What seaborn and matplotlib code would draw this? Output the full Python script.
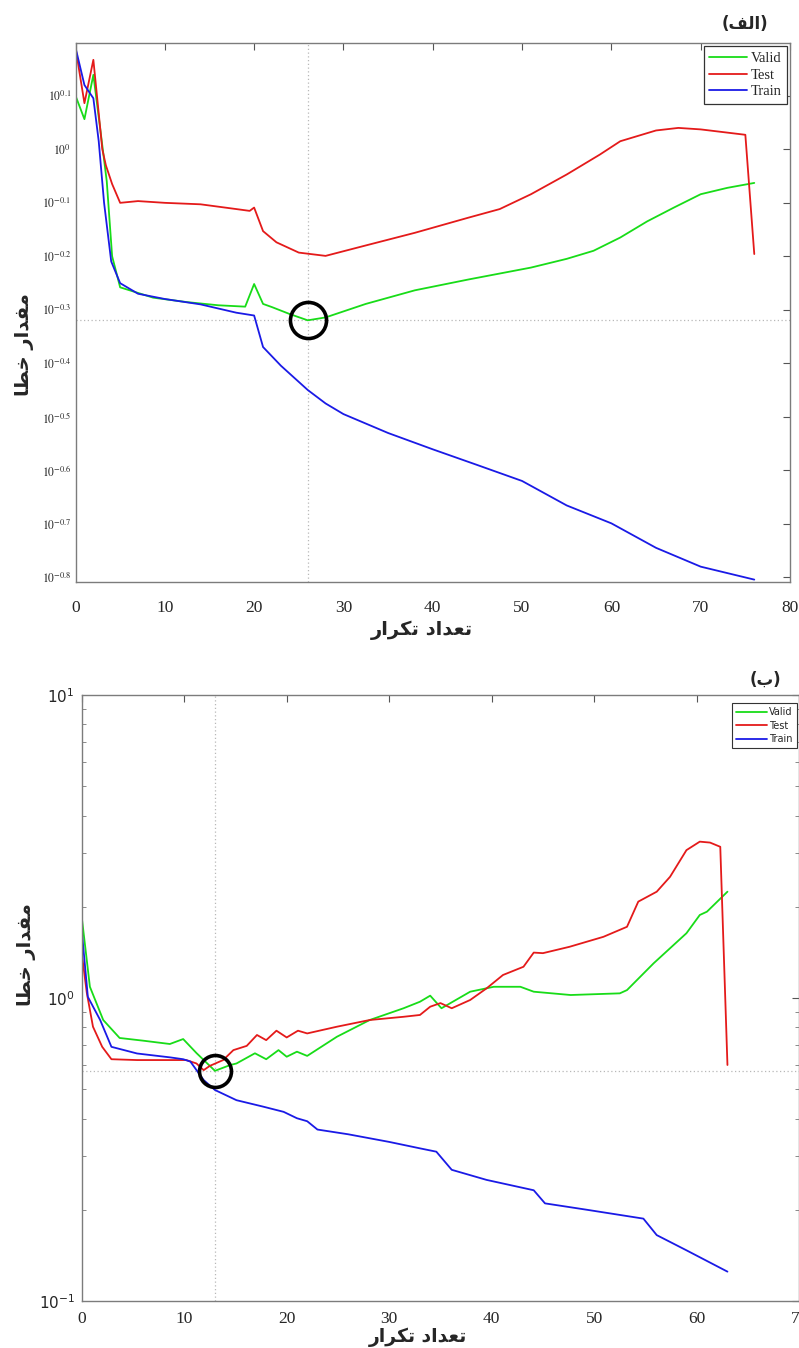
import numpy as np
import pandas as pd
import matplotlib
matplotlib.use("Agg")
import matplotlib.pyplot as plt
import seaborn as sns
from matplotlib.ticker import FixedLocator, NullLocator, LogLocator, NullFormatter

# ---------------- data ----------------
# panel (الف)
a_valid_x = [0, 1, 2, 2.8, 3.5, 4.1, 5, 8.7, 12.5, 16, 19, 20, 21, 22, 24, 26, 28, 32.5, 38, 44, 51, 55, 58, 61, 64, 67, 70, 73, 76]
a_valid_y = [1.259, 1.138, 1.377, 1.081, 0.871, 0.631, 0.552, 0.528, 0.518, 0.511, 0.508, 0.560, 0.514, 0.507, 0.492, 0.479,
             0.485, 0.514, 0.545, 0.571, 0.601, 0.624, 0.646, 0.684, 0.733, 0.778, 0.824, 0.847, 0.865]
a_test_x = [0, 1, 2, 3, 3.4, 4.1, 5, 7, 10, 14, 18, 19.5, 20, 21, 22.5, 25, 28, 32.5, 38, 44, 47.5, 51, 55, 58.7, 61, 65, 67.5, 70, 75, 76]
a_test_y = [1.549, 1.219, 1.469, 1.0, 0.933, 0.861, 0.794, 0.800, 0.794, 0.789, 0.773, 0.767, 0.778, 0.703, 0.670, 0.641,
            0.632, 0.661, 0.698, 0.745, 0.773, 0.824, 0.897, 0.977, 1.035, 1.084, 1.096, 1.089, 1.064, 0.637]
a_train_x = [0, 1, 2, 2.6, 3.2, 4, 5, 7, 10, 14, 18, 20, 21, 23, 26, 28, 30, 35, 40, 45, 50, 55, 60, 65, 70, 76]
a_train_y = [1.549, 1.318, 1.245, 1.035, 0.794, 0.617, 0.562, 0.537, 0.525, 0.513, 0.495, 0.489, 0.427, 0.394, 0.355, 0.335,
             0.320, 0.295, 0.275, 0.257, 0.240, 0.216, 0.200, 0.180, 0.166, 0.157]
a_best_epoch = 26
a_best_value = 0.479
a_yticks_exp = ["0.1", "0", "-0.1", "-0.2", "-0.3", "-0.4", "-0.5", "-0.6", "-0.7", "-0.8"]
a_xticks = [0, 10, 20, 30, 40, 50, 60, 70, 80]

# panel (ب)
b_valid_x = [0, 0.8, 2.1, 3.7, 6.0, 8.6, 9.9, 11.2, 13, 14.5, 15.1, 16.9, 18.0, 19.2, 20.0, 21.0, 22.0, 24.9, 28.1, 31.4,
             33.0, 34.0, 35.1, 37.9, 40.2, 42.8, 44.1, 47.7, 52.5, 53.2, 55.8, 59.0, 60.3, 61.0, 63]
b_valid_y = [1.854, 1.089, 0.846, 0.738, 0.723, 0.705, 0.732, 0.658, 0.575, 0.601, 0.608, 0.657, 0.628, 0.673, 0.640, 0.665,
             0.644, 0.745, 0.846, 0.925, 0.972, 1.018, 0.925, 1.049, 1.089, 1.089, 1.049, 1.023, 1.036, 1.062, 1.302, 1.636,
             1.879, 1.927, 2.243]
b_test_x = [0, 0.5, 1.1, 2.0, 2.9, 5.4, 8.6, 10.2, 11.2, 11.9, 12.5, 13.8, 14.8, 16.1, 17.1, 18.0, 19.0, 20.0, 21.1, 22.0,
            24.9, 28.1, 31.4, 33.0, 34.0, 35.0, 36.1, 37.9, 39.5, 41.1, 43.1, 44.1, 45.0, 47.6, 50.9, 53.2, 54.3, 56.1,
            57.4, 59.0, 60.3, 61.3, 62.3, 63]
b_test_y = [1.408, 1.039, 0.804, 0.690, 0.628, 0.624, 0.624, 0.624, 0.608, 0.578, 0.597, 0.624, 0.673, 0.695, 0.755, 0.726,
            0.780, 0.741, 0.780, 0.764, 0.804, 0.846, 0.867, 0.879, 0.936, 0.962, 0.925, 0.985, 1.076, 1.191, 1.268, 1.412,
            1.406, 1.476, 1.592, 1.718, 2.080, 2.243, 2.512, 3.076, 3.281, 3.258, 3.155, 0.601]
b_train_x = [0, 0.6, 1.8, 2.9, 5.4, 8.6, 9.9, 10.6, 11.9, 13.0, 15.1, 17.7, 19.7, 21.0, 22, 23, 26, 30, 33, 34.6, 36.1,
             39.5, 44.1, 45.2, 49.3, 54.8, 56.1, 59.0, 63]
b_train_y = [1.675, 1.009, 0.846, 0.690, 0.656, 0.637, 0.628, 0.617, 0.536, 0.497, 0.460, 0.438, 0.421, 0.401, 0.392, 0.368,
             0.355, 0.335, 0.319, 0.311, 0.271, 0.251, 0.232, 0.210, 0.200, 0.187, 0.165, 0.147, 0.125]
b_best_epoch = 13
b_best_value = 0.575
b_yticks_exp = ["1", "0", "-1"]
b_xticks = [0, 10, 20, 30, 40, 50, 60, 70]

series_names = ["Valid", "Test", "Train"]
series_colors = ["#18dc18", "#e41a1a", "#1a1ae6"]

# Persian labels in visual (shaped) order
title_a = "(\ufed2\ufedf\ufe8d)"                                   # (الف)
title_b = "(\ufe8f)"                                               # (ب)
ylabel_txt = "\ufe8e\ufec4\ufea7 \ufead\ufe8d\ufeaa\ufed4\ufee3"   # مقدار خطا
xlabel_txt = "\ufead\ufe8d\ufeae\ufb91\ufe97 \ufea9\ufe8d\ufeaa\ufecc\ufe97"  # تعداد تکرار

# ---------------- style ----------------
sns.set_style("white")
plt.rcParams['font.family'] = ['Liberation Serif', 'DejaVu Sans']
plt.rcParams['axes.edgecolor'] = '#7c7c7c'
plt.rcParams['axes.linewidth'] = 1.0

W, H = 799, 1348
fig = plt.figure(figsize=(W / 100, H / 100), dpi=100)
fig.patch.set_facecolor('white')

def fx(px):
    return px / W

def fy(py):
    return 1 - py / H

ax1 = fig.add_axes([fx(75.5), fy(581.7), (790 - 75.5) / W, (581.7 - 42.7) / H])
ax2 = fig.add_axes([fx(81.7), fy(1301), (799.2 - 81.7) / W, (1301 - 695) / H])

panels = [
    (ax1, [(a_valid_x, a_valid_y), (a_test_x, a_test_y), (a_train_x, a_train_y)], a_best_epoch, a_best_value),
    (ax2, [(b_valid_x, b_valid_y), (b_test_x, b_test_y), (b_train_x, b_train_y)], b_best_epoch, b_best_value),
]

for ax, series, be, bv in panels:
    ax.set_yscale('log')
    for (xs, ys), name, col in zip(series, series_names, series_colors):
        df = pd.DataFrame({"epoch": xs, "perf": ys})
        sns.lineplot(data=df, x="epoch", y="perf", ax=ax, color=col, lw=1.3,
                     label=name, estimator=None, sort=False)
    ax.axvline(be, color='#b8b8b8', ls=(0, (1, 2)), lw=0.9, zorder=0)
    ax.axhline(bv, color='#b8b8b8', ls=(0, (1, 2)), lw=0.9, zorder=0)
    ax.set_xlabel("")
    ax.set_ylabel("")
    for s in ax.spines.values():
        s.set_visible(True)
        s.set_color('#7c7c7c')

# best-epoch circles
ax1.plot([a_best_epoch], [a_best_value], marker='o', ms=26, mfc='none', mec='black', mew=2.6, ls='none')
ax2.plot([b_best_epoch], [b_best_value], marker='o', ms=23, mfc='none', mec='black', mew=2.6, ls='none')

# ---- panel (الف) axes
ax1.set_xlim(0, 80)
ax1.set_ylim(10 ** -0.808, 10 ** 0.199)
ax1.xaxis.set_major_locator(FixedLocator(a_xticks))
ax1.set_xticklabels([str(v) for v in a_xticks], fontsize=12.5, family='Liberation Serif')
ax1.yaxis.set_major_locator(FixedLocator([10 ** float(e) for e in a_yticks_exp]))
ax1.yaxis.set_minor_locator(NullLocator())
ax1.set_yticklabels([r"$10^{%s}$" % e for e in a_yticks_exp], fontsize=8.5)
for t in ax1.get_yticklabels():
    t.set_math_fontfamily('stix')
ax1.tick_params(axis='both', which='major', direction='in', top=True, right=True,
                length=5, width=0.8, color='#555555')
ax1.tick_params(axis='x', pad=13)
ax1.tick_params(axis='y', pad=3)

# ---- panel (ب) axes
ax2.set_xlim(0, 70)
ax2.set_ylim(0.1, 10)
ax2.xaxis.set_major_locator(FixedLocator(b_xticks))
ax2.set_xticklabels([str(v) for v in b_xticks], fontsize=12.5, family='Liberation Serif')
ax2.yaxis.set_major_locator(FixedLocator([10 ** float(e) for e in b_yticks_exp]))
ax2.yaxis.set_minor_locator(LogLocator(base=10, subs=np.arange(2, 10)))
ax2.yaxis.set_minor_formatter(NullFormatter())
ax2.set_yticklabels([r"$10^{%s}$" % e for e in b_yticks_exp], fontsize=11)
for t in ax2.get_yticklabels():
    t.set_math_fontfamily('dejavusans')
ax2.tick_params(axis='both', which='major', direction='in', top=True, right=True,
                length=5, width=0.8, color='#555555')
ax2.tick_params(axis='y', which='minor', direction='in', left=True, right=True,
                length=3, width=0.6, color='#777777')
ax2.tick_params(axis='x', pad=7)
ax2.tick_params(axis='y', pad=5)

# ---- legends
leg1 = ax1.legend(loc='upper right', bbox_to_anchor=(0.996, 0.993), fontsize=10.5, frameon=True,
                  fancybox=False, edgecolor='#333333', framealpha=1, handlelength=2.6,
                  borderpad=0.35, labelspacing=0.25, handletextpad=0.3, borderaxespad=0.0)
leg1.get_frame().set_linewidth(0.9)
for t in leg1.get_texts():
    t.set_family('Liberation Serif')
leg2 = ax2.legend(loc='upper right', bbox_to_anchor=(0.997, 0.987), fontsize=7, frameon=True,
                  fancybox=False, edgecolor='#333333', framealpha=1, handlelength=3.2,
                  borderpad=0.45, labelspacing=0.35, handletextpad=0.2, borderaxespad=0.0)
leg2.get_frame().set_linewidth(0.8)
for t in leg2.get_texts():
    t.set_family('Liberation Sans Narrow')

# ---- Persian texts
ar = ['DejaVu Sans']
fig.text(fx(745), fy(24), title_a, ha='center', va='center', fontsize=12, fontweight='bold', family=ar)
fig.text(fx(765), fy(680), title_b, ha='center', va='center', fontsize=12, fontweight='bold', family=ar)
fig.text(fx(24), fy(345), ylabel_txt, ha='center', va='center', rotation=90, fontsize=14, fontweight='bold', family=ar)
fig.text(fx(26), fy(955), ylabel_txt, ha='center', va='center', rotation=90, fontsize=14, fontweight='bold', family=ar)
fig.text(fx(422), fy(630), xlabel_txt, ha='center', va='center', fontsize=14, fontweight='bold', family=ar)
fig.text(fx(418), fy(1337), xlabel_txt, ha='center', va='center', fontsize=13.5, fontweight='bold', family=ar)

fig.savefig("out.png", dpi=100)
